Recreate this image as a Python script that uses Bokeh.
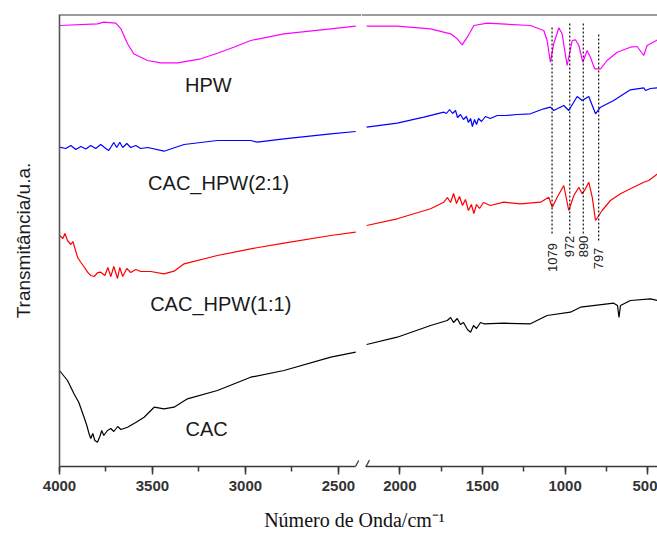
import numpy as np
from bokeh.plotting import figure
from bokeh.models import Range1d, Span, SingleIntervalTicker, FixedTicker, Arrow
from bokeh.layouts import column, row
from bokeh.embed import file_html
from bokeh.resources import INLINE
from bokeh.core.properties import value

# ---------------- data (wavenumber cm-1, transmittance u.a. with offsets) -------------
# left part of the broken axis (4000 -> ~2400) and right part (~2200 -> 441)
hpw_wn_l = [4000, 3796, 3762, 3697, 3670, 3634, 3601, 3527, 3455, 3366, 3240, 3151, 3063, 2972, 2794, 2541, 2407]
hpw_y_l = [441, 442.7, 444.3, 443.3, 437.7, 422.7, 412.7, 406, 403.7, 403.7, 407.7, 413.3, 419.3, 426, 432.7, 437.7, 440.3]
hpw_wn_r = [2201, 2016, 1814, 1693, 1653, 1623, 1592, 1552, 1471, 1210, 1129, 1109, 1089, 1069, 1038, 1018, 988, 957,
            937, 917, 893, 867, 847, 821, 786, 746, 685, 605, 564, 524, 504, 441]
hpw_y_r = [440.3, 440.3, 437.7, 432.7, 427.7, 421.7, 429.3, 441, 443.3, 441, 436, 426, 404.3, 422.7, 438.7, 432.7, 401,
           426, 426.7, 421, 404.3, 416, 409.3, 397.7, 397.7, 406, 414.3, 419.3, 420, 411, 421, 426.7]

b21_wn_l = [4000, 3966, 3939, 3912, 3885, 3858, 3832, 3805, 3778, 3751, 3735, 3708, 3692, 3676, 3660, 3638, 3617, 3590,
            3563, 3525, 3438, 3330, 3151, 2972, 2936, 2793, 2541, 2407]
b21_y_l = [319.3, 318, 321, 317, 320, 317.5, 321, 318, 322, 318, 316, 324, 319, 324.3, 319, 323, 319, 321, 318, 319,
           315.3, 322, 326, 326, 324.3, 327.7, 332.7, 335]
b21_wn_r = [2201, 2016, 1855, 1734, 1718, 1699, 1681, 1663, 1651, 1633, 1615, 1597, 1585, 1572, 1561, 1548, 1536, 1524,
            1506, 1482, 1452, 1411, 1361, 1290, 1210, 1129, 1089, 1069, 1008, 978, 927, 897, 857, 816, 786, 706, 605,
            524, 514, 484, 441]
b21_y_r = [339.3, 343.3, 349.3, 354.3, 353, 357, 353, 356, 349, 352, 347, 350, 344, 348, 340, 347, 342, 348, 345, 350,
           348, 351, 351, 352, 352.7, 357.7, 359.3, 356, 361, 356, 370, 366, 370, 352.7, 359.3, 366, 376.7, 378.7,
           376, 378, 378.7]

b11_wn_l = [4000, 3982, 3971, 3957, 3939, 3928, 3903, 3885, 3869, 3849, 3832, 3814, 3794, 3778, 3756, 3740, 3724, 3708,
            3688, 3676, 3660, 3638, 3617, 3590, 3563, 3509, 3438, 3384, 3330, 3151, 2972, 2793, 2541, 2407]
b11_y_l = [231, 228, 233, 226, 222, 225, 209.3, 204, 200, 194.3, 191, 190, 194, 194.3, 191, 199, 190, 200, 188, 199,
           190, 198, 194, 197, 195, 195, 192.7, 195.3, 202.7, 211, 217.7, 223.3, 231, 234.3]
b11_wn_r = [2201, 2016, 1814, 1734, 1712, 1693, 1675, 1657, 1639, 1621, 1603, 1585, 1567, 1552, 1536, 1518, 1494, 1452,
            1371, 1270, 1149, 1099, 1078, 1048, 1008, 978, 947, 917, 897, 877, 857, 836, 816, 776, 726, 665, 605, 524,
            494, 441]
b11_y_r = [241, 247.7, 257.7, 264.3, 269, 264, 273, 263, 270, 261, 267, 256, 262, 253, 262, 258, 264, 261, 264.3,
           262.7, 264.3, 269.3, 259.3, 269.3, 281, 256, 271, 279.3, 272.7, 277.7, 284.3, 269.3, 246, 256, 266, 272.7,
           277.7, 284.3, 286, 292.7]

cac_wn_l = [4000, 3957, 3922, 3896, 3868, 3853, 3841, 3832, 3821, 3810, 3796, 3783, 3773, 3762, 3742, 3724, 3708, 3687,
            3670, 3634, 3590, 3545, 3491, 3438, 3384, 3312, 3151, 2972, 2793, 2541, 2407]
cac_y_l = [96, 86, 72.7, 64, 49.3, 41, 32.7, 28, 33, 26, 24.3, 30, 36, 31, 36, 38, 35, 40, 37, 39.3, 44, 49.3, 59.3,
           57.7, 59.3, 67.7, 76, 89.3, 96, 109.3, 114.3]
cac_wn_r = [2201, 2016, 1814, 1713, 1693, 1675, 1653, 1633, 1615, 1591, 1572, 1554, 1536, 1512, 1492, 1371, 1210, 1109,
            968, 907, 706, 683, 674, 665, 605, 484, 441]
cac_y_r = [122, 129.3, 141, 146, 149, 144, 148, 142, 144, 137, 134.3, 141, 138, 144, 142.7, 143.3, 142.7, 151, 154.3,
           159.3, 163.3, 161, 149, 161, 166, 167.7, 166]

series_names = ["HPW", "CAC_HPW(2:1)", "CAC_HPW(1:1)", "CAC"]
series_colors = ["#ff00ff", "#0000ff", "#ff0000", "#000000"]
label_wn = [3200, 3144, 3133, 3209]
label_y = [382, 284, 163, 38]

peak_wn = [1079, 972, 890, 797]
peak_labels = ["1079", "972", "890", "797"]
peak_top = [439, 443, 443, 434]
peak_bottom = [233, 233, 233, 226]
peak_label_y = [209, 220, 220, 208]

left_tick_labels = ["4000", "3500", "3000", "2500"]
right_tick_labels = ["2000", "1500", "1000", "500"]

AX = "#3a3a3a"
SANS = "Liberation Sans"


def style_xaxis(ax, bounds):
    ax.bounds = bounds
    ax.ticker = SingleIntervalTicker(interval=500, num_minor_ticks=2)
    ax.axis_line_color = AX
    ax.axis_line_width = 1.6
    ax.major_tick_line_color = AX
    ax.major_tick_line_width = 1.5
    ax.minor_tick_line_color = AX
    ax.minor_tick_line_width = 1.5
    ax.major_tick_out = 8
    ax.major_tick_in = 0
    ax.minor_tick_out = 5
    ax.minor_tick_in = 0
    ax.major_label_standoff = 6
    ax.major_label_text_font = SANS
    ax.major_label_text_font_style = "bold"
    ax.major_label_text_font_size = "15px"
    ax.major_label_text_color = "#333333"


common = dict(height=500, output_backend="svg", toolbar_location=None, min_border_top=14,
              min_border_bottom=34, min_border_right=0, y_range=Range1d(0, 452))

left = figure(width=361, x_range=Range1d(4000, 2376), min_border_left=59, **common)
right = figure(width=296, x_range=Range1d(2232, 441), min_border_left=0, y_axis_location=None, **common)

for p in (left, right):
    p.grid.visible = False
    p.outline_line_color = None
    p.background_fill_color = "white"
    p.border_fill_color = "white"
    p.add_layout(Span(location=452, dimension="width", line_color=AX, line_width=2))

style_xaxis(left.xaxis[0], (2410, 4000))
style_xaxis(right.xaxis[0], (441, 2205))
left.xaxis[0].major_label_overrides = {4000: left_tick_labels[0], 3500: left_tick_labels[1],
                                       3000: left_tick_labels[2], 2500: left_tick_labels[3]}
right.xaxis[0].major_label_overrides = {2000: right_tick_labels[0], 1500: right_tick_labels[1],
                                        1000: right_tick_labels[2], 500: right_tick_labels[3]}

ya = left.yaxis[0]
ya.ticker = FixedTicker(ticks=[])
ya.major_label_text_font_size = "0px"
ya.major_tick_out = 0
ya.minor_tick_out = 0
ya.axis_line_color = "#555555"
ya.axis_line_width = 1.6
ya.axis_label = "Transmitância/u.a."
ya.axis_label_text_font = SANS
ya.axis_label_text_font_style = "normal"
ya.axis_label_text_font_size = "19px"
ya.axis_label_text_color = "#1a1a1a"
ya.axis_label_standoff = 26

left_data = [(hpw_wn_l, hpw_y_l), (b21_wn_l, b21_y_l), (b11_wn_l, b11_y_l), (cac_wn_l, cac_y_l)]
right_data = [(hpw_wn_r, hpw_y_r), (b21_wn_r, b21_y_r), (b11_wn_r, b11_y_r), (cac_wn_r, cac_y_r)]
for (xs, ys), c in zip(left_data, series_colors):
    left.line(xs, ys, line_color=c, line_width=1.2)
for (xs, ys), c in zip(right_data, series_colors):
    right.line(xs, ys, line_color=c, line_width=1.2)

left.text(x=label_wn, y=label_y, text=series_names, text_font=value(SANS), text_font_size="20px",
          text_align="center", text_baseline="middle", text_color="#1a1a1a")

right.segment(x0=peak_wn, y0=peak_bottom, x1=peak_wn, y1=peak_top, line_color="#222222",
              line_width=1.3, line_dash="2 2")
right.text(x=peak_wn, y=peak_label_y, text=peak_labels, angle=np.pi / 2, text_font=value(SANS),
           text_font_size="13px", text_align="center", text_baseline="middle", text_color="#222222")

# axis-break marks
left.add_layout(Arrow(end=None, x_start=2434, y_start=-9, x_end=2391, y_end=6, line_color=AX, line_width=1.3))
right.add_layout(Arrow(end=None, x_start=2232, y_start=-9, x_end=2184, y_end=6.5, line_color=AX, line_width=1.3))

bottom = figure(width=657, height=37, x_range=Range1d(0, 657), y_range=Range1d(0, 37), output_backend="svg",
                toolbar_location=None, min_border=0, x_axis_location=None, y_axis_location=None)
bottom.grid.visible = False
bottom.outline_line_color = None
bottom.text(x=[354], y=[18], text=["Número de Onda/cm⁻¹"], text_font=value("Liberation Serif"),
            text_font_size="20px", text_align="center", text_baseline="middle", text_color="#111111")

layout = column(row(left, right), bottom)
open("out.html", "w").write(file_html(layout, INLINE))
